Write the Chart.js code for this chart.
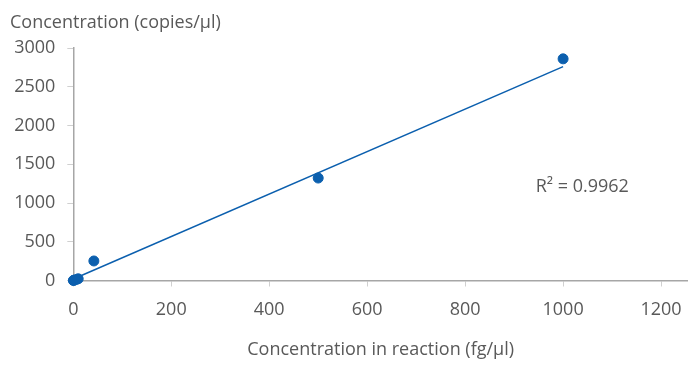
<!DOCTYPE html>
<html>
<head>
<meta charset="utf-8">
<script src="https://cdn.jsdelivr.net/npm/chart.js@4.4.1/dist/chart.umd.min.js"></script>
<style>
  html, body { margin: 0; padding: 0; background: #ffffff; }
  #wrap { width: 688px; height: 365px; position: relative; }
</style>
</head>
<body>
<div id="wrap"><canvas id="chart" width="688" height="365"></canvas></div>
<script>
// Measured samples: input concentration (fg/µl) vs. measured copies/µl
const concentrationFg = [0.1, 1, 5, 10, 42, 500, 1000];
const copiesPerUl = [0, 4, 10, 22, 252, 1322, 2860];

// Linear trendline end points (fg/µl, copies/µl)
const trendX = [0.1, 1000];
const trendY = [20, 2760];
const rSquaredText = 'R² = 0.9962';

// Axis tick values
const xTicks = [0, 200, 400, 600, 800, 1000, 1200];
const yTicks = [0, 500, 1000, 1500, 2000, 2500, 3000];

const FONT = '"Open Sans", Lato, sans-serif';
const TEXT = '#595959';
const BLUE = '#0b5fae';

const annotations = {
  id: 'annotations',
  afterDraw(chart) {
    const ctx = chart.ctx;
    const x = chart.scales.x, y = chart.scales.y;
    ctx.save();
    ctx.fillStyle = TEXT;
    ctx.font = '18px ' + FONT;
    ctx.textAlign = 'left';
    ctx.textBaseline = 'alphabetic';
    ctx.fillText('Concentration (copies/μl)', 10, 28);
    ctx.fillText(rSquaredText, x.getPixelForValue(944), y.getPixelForValue(1145));
    ctx.restore();
  }
};

new Chart(document.getElementById('chart'), {
  data: {
    datasets: [
      {
        type: 'scatter',
        order: 0,
        data: concentrationFg.map((v, i) => ({ x: v, y: copiesPerUl[i] })),
        backgroundColor: BLUE,
        borderColor: BLUE,
        pointRadius: 5,
        pointHoverRadius: 5,
        clip: false
      },
      {
        type: 'line',
        order: 1,
        data: trendX.map((v, i) => ({ x: v, y: trendY[i] })),
        borderColor: BLUE,
        borderWidth: 1.5,
        pointRadius: 0,
        fill: false
      }
    ]
  },
  options: {
    responsive: false,
    animation: false,
    layout: { autoPadding: false, padding: { top: 48, right: 0, bottom: 0, left: 0 } },
    plugins: { legend: { display: false }, tooltip: { enabled: false } },
    scales: {
      x: {
        type: 'linear',
        min: 0,
        max: 1255,
        afterBuildTicks(scale) { scale.ticks = xTicks.map(v => ({ value: v })); },
        afterFit(scale) {
          scale.height = 84.5;
          scale.paddingLeft = 0;
          scale.paddingRight = 0;
        },
        border: { display: true, color: '#a6a6a6', width: 1.5 },
        grid: { display: true, drawOnChartArea: false, drawTicks: true, tickLength: 6, color: '#d0d0d0' },
        ticks: {
          color: TEXT,
          font: { family: FONT, size: 18 },
          padding: 13,
          maxRotation: 0,
          callback: v => String(v)
        },
        title: {
          display: true,
          text: 'Concentration in reaction (fg/μl)',
          color: TEXT,
          font: { family: FONT, size: 18 },
          padding: { top: 0, bottom: 4 }
        }
      },
      y: {
        type: 'linear',
        min: 0,
        max: 3000,
        afterBuildTicks(scale) { scale.ticks = yTicks.map(v => ({ value: v })); },
        afterFit(scale) { scale.width = 73.3; },
        border: { display: true, color: '#a6a6a6', width: 1.5 },
        grid: { display: true, drawOnChartArea: false, drawTicks: true, tickLength: 6, color: '#d0d0d0' },
        ticks: {
          color: TEXT,
          font: { family: FONT, size: 18 },
          padding: 12,
          callback: v => String(v)
        }
      }
    }
  },
  plugins: [annotations]
});
</script>
</body>
</html>
